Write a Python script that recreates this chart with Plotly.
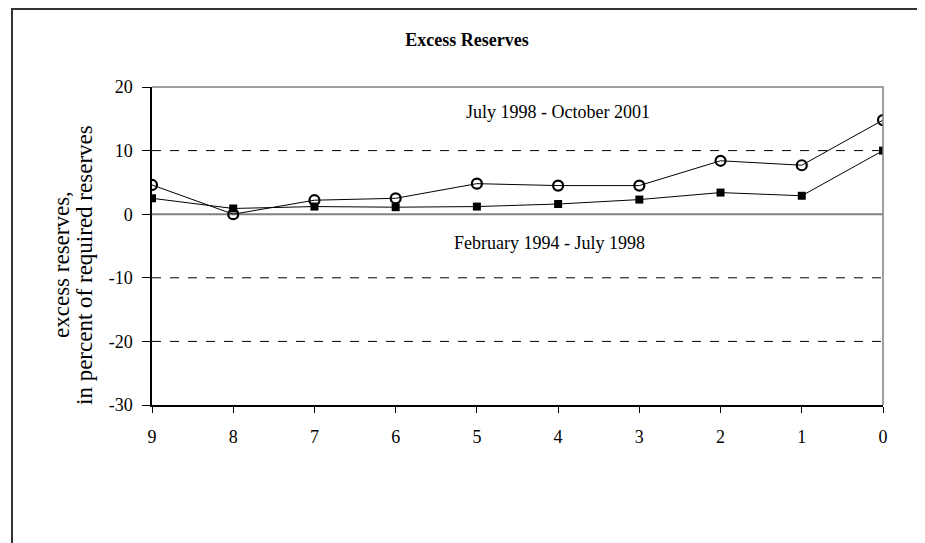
import plotly.graph_objects as go

# years before the end of the period (x axis runs 9 -> 0)
years = [9, 8, 7, 6, 5, 4, 3, 2, 1, 0]
late_period = [4.6, 0.0, 2.2, 2.5, 4.8, 4.5, 4.5, 8.4, 7.7, 14.8]   # July 1998 - October 2001
early_period = [2.5, 0.9, 1.2, 1.1, 1.2, 1.6, 2.3, 3.4, 2.9, 10.0]  # February 1994 - July 1998
y_ticks = [20, 10, 0, -10, -20, -30]
y_ticktext = ["20", "10", "0", "-10", "-20", "-30"]
grid_levels = [10, -10, -20]
y_title_lines = ["excess reserves,", "in percent of required reserves"]

SERIF = "Liberation Serif, Times New Roman, serif"
W, H = 925, 543
OFF = 8  # page body margin shifts the figure by 8px
L, R, T, B = 152 - OFF, 42 + OFF, 87 - OFF, 138 + OFF
pw, ph = W - L - R, H - T - B


def px_x(px):
    return (px - OFF - L) / pw


def px_y(py):
    return (H - B - (py - OFF)) / ph


fig = go.Figure()
fig.add_trace(go.Scatter(
    x=years, y=early_period, mode="lines+markers", name="February 1994 - July 1998",
    line=dict(color="black", width=1),
    marker=dict(symbol="square", size=8, color="black"),
))
fig.add_trace(go.Scatter(
    x=years, y=late_period, mode="lines+markers", name="July 1998 - October 2001",
    line=dict(color="black", width=1),
    marker=dict(symbol="circle-open", size=10, color="black", line=dict(width=2.2)),
))

# dashed gridlines
for g in grid_levels:
    fig.add_shape(type="line", xref="paper", x0=0, x1=1, y0=g, y1=g,
                  line=dict(color="black", width=1, dash="dash"), layer="below")
# zero line
fig.add_shape(type="line", xref="paper", x0=0, x1=1, y0=0, y1=0,
              line=dict(color="#808080", width=2), layer="below")
# gray plot-area border on top and right
fig.add_shape(type="path", xref="paper", yref="paper", path="M 0,1 L 1,1 L 1,0",
              line=dict(color="#808080", width=1.5))
# outer frame around the chart
fig.add_shape(type="rect", xref="paper", yref="paper",
              x0=px_x(12), x1=px_x(922), y0=px_y(570), y1=px_y(9),
              line=dict(color="#333333", width=2))

fig.add_annotation(text="July 1998 - October 2001", x=4.0, y=16.0, showarrow=False,
                   xanchor="center", font=dict(family=SERIF, size=18, color="black"))
fig.add_annotation(text="February 1994 - July 1998", x=4.1, y=-4.5, showarrow=False,
                   xanchor="center", font=dict(family=SERIF, size=18, color="black"))
for line, xpos in zip(y_title_lines, [61, 84]):
    fig.add_annotation(text=line, xref="paper", yref="paper", x=px_x(xpos), y=px_y(265),
                       textangle=-90, showarrow=False, xanchor="center", yanchor="middle",
                       font=dict(family=SERIF, size=23, color="black"))

fig.update_layout(
    width=W, height=H, showlegend=False,
    paper_bgcolor="white", plot_bgcolor="white",
    margin=dict(l=L, r=R, t=T, b=B),
    font=dict(family=SERIF, size=18, color="black"),
    title=dict(text="<b>Excess Reserves</b>", x=(467 - OFF) / W, xanchor="center",
               y=1 - (40 - OFF) / H, yanchor="middle", font=dict(family=SERIF, size=18)),
)
fig.update_xaxes(range=[9, 0], tickvals=years, ticks="outside", ticklen=6,
                 tickcolor="black", showline=True, linecolor="black", linewidth=2,
                 showgrid=False, zeroline=False, ticklabelstandoff=8)
fig.update_yaxes(range=[-30, 20], tickvals=y_ticks, ticktext=y_ticktext,
                 ticks="outside", ticklen=8, tickcolor="black", showline=True,
                 linecolor="black", linewidth=1.5, showgrid=False, zeroline=False,
                 ticklabelstandoff=6)

fig.write_html("out.html")
